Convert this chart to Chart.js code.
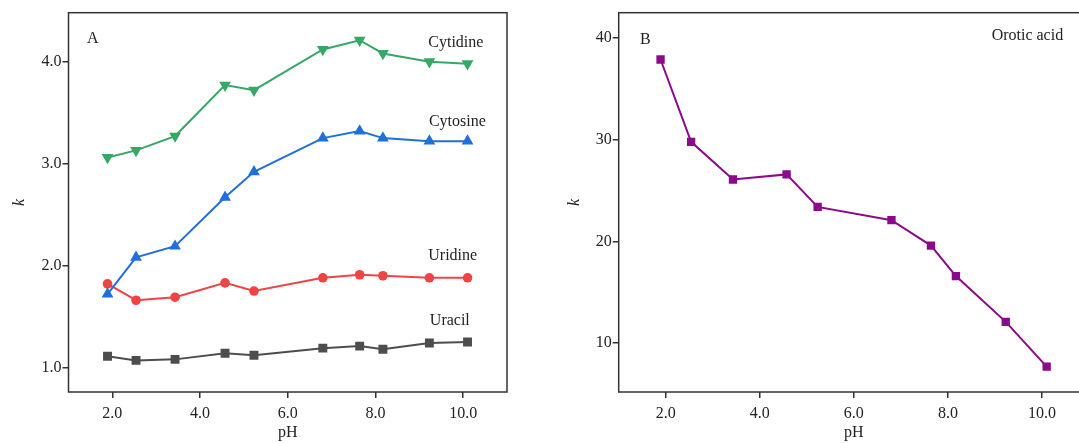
<!DOCTYPE html>
<html>
<head>
<meta charset="utf-8">
<script src="https://cdn.jsdelivr.net/npm/chart.js@4.4.1/dist/chart.umd.min.js"></script>
<style>
    html, body { margin: 0; padding: 0; background: #fff; overflow: hidden; width: 1079px; height: 443px; }
    #left-chart { position: absolute; left: 0; top: 0; }
    #right-chart { position: absolute; left: 560px; top: 0; }
</style>
</head>
<body>
<canvas id="left-chart" width="560" height="443"></canvas>
<canvas id="right-chart" width="540" height="443"></canvas>
<script>
// pH of each measurement (same for both panels)
const PH = [1.89, 2.54, 3.43, 4.57, 5.23, 6.80, 7.64, 8.17, 9.23, 10.10];

// panel A
const CYTIDINE = [3.06, 3.13, 3.27, 3.77, 3.72, 4.12, 4.21, 4.08, 4.00, 3.98];
const CYTOSINE = [1.72, 2.08, 2.19, 2.67, 2.92, 3.25, 3.32, 3.25, 3.22, 3.22];
const URIDINE = [1.82, 1.66, 1.69, 1.83, 1.75, 1.88, 1.91, 1.90, 1.88, 1.88];
const URACIL = [1.11, 1.07, 1.08, 1.14, 1.12, 1.19, 1.21, 1.18, 1.24, 1.25];

// panel B
const OROTIC_ACID = [37.9, 29.8, 26.1, 26.6, 23.4, 22.1, 19.6, 16.6, 12.1, 7.7];

const X_TICKS = [2, 4, 6, 8, 10];
const Y_TICKS_A = [1, 2, 3, 4];
const Y_TICKS_B = [10, 20, 30, 40];

const TEXTCOLOR = "#222";
const AXISCOLOR = "#333";
const FONT = '"Liberation Serif", "DejaVu Serif", serif';

Chart.defaults.font.family = FONT;
Chart.defaults.font.size = 16;
Chart.defaults.color = TEXTCOLOR;

const framePlugin = {
    id: "frame",
    beforeDatasetsDraw(chart) {
        const {ctx, chartArea: a} = chart;
        ctx.save();
        ctx.strokeStyle = AXISCOLOR;
        ctx.lineWidth = 1.5;
        ctx.strokeRect(a.left, a.top, a.right - a.left, a.bottom - a.top);
        ctx.restore();
    }
};

// text written inside the plot, placed in data units
function notesPlugin(notes) {
    return {
        id: "notes",
        afterDraw(chart) {
            const {ctx, scales: {x, y}} = chart;
            ctx.save();
            ctx.font = "16px " + FONT;
            ctx.fillStyle = TEXTCOLOR;
            ctx.textBaseline = "alphabetic";
            notes.forEach(n => ctx.fillText(n.text, x.getPixelForValue(n.x), y.getPixelForValue(n.y)));
            ctx.restore();
        }
    };
}

function series(values, color, style, radius, rotation) {
    return {
        data: PH.map((p, i) => ({x: p, y: values[i]})),
        borderColor: color,
        backgroundColor: color,
        borderWidth: 2,
        pointStyle: style,
        pointRadius: radius,
        pointRotation: rotation || 0,
        pointBorderWidth: 0,
        pointBackgroundColor: color
    };
}

function makeScales(yMin, yMax, yTicks, yFormat, yWidth, yTitlePad) {
    return {
        x: {
            type: "linear",
            min: 1,
            max: 11,
            afterBuildTicks: s => { s.ticks = X_TICKS.map(v => ({value: v})); },
            afterFit: s => { s.height = 51; },
            ticks: {
                callback: v => v.toFixed(1),
                padding: 6,
                color: TEXTCOLOR
            },
            grid: {drawOnChartArea: false, drawTicks: true, tickLength: 6, color: AXISCOLOR, lineWidth: 1.5},
            border: {display: false},
            title: {display: true, text: "pH", color: TEXTCOLOR, padding: {top: 0, bottom: 1}}
        },
        y: {
            type: "linear",
            min: yMin,
            max: yMax,
            afterBuildTicks: s => { s.ticks = yTicks.map(v => ({value: v})); },
            afterFit: s => { s.width = yWidth; },
            ticks: {
                callback: yFormat,
                padding: 1,
                color: TEXTCOLOR
            },
            grid: {drawOnChartArea: false, drawTicks: true, tickLength: 6, color: AXISCOLOR, lineWidth: 1.5},
            border: {display: false},
            title: {
                display: true,
                text: "k",
                color: TEXTCOLOR,
                font: {style: "italic"},
                padding: {top: yTitlePad, bottom: 0}
            }
        }
    };
}

new Chart(document.querySelector("#left-chart"), {
    type: "line",
    data: {
        datasets: [
            series(CYTIDINE, "#35a866", "triangle", 6.8, 180),
            series(CYTOSINE, "#1f6fdc", "triangle", 6.8),
            series(URIDINE, "#f04444", "circle", 4.8),
            series(URACIL, "#4d4d4d", "rect", 6.3)
        ]
    },
    options: {
        responsive: false,
        animation: false,
        layout: {padding: {top: 12.7, right: 53, bottom: 0, left: 0}},
        scales: makeScales(0.76, 4.48, Y_TICKS_A, v => v.toFixed(1), 68.5, 10),
        plugins: {legend: {display: false}, tooltip: {enabled: false}}
    },
    plugins: [framePlugin, notesPlugin([
        {text: "A", x: 1.42, y: 4.185},
        {text: "Cytidine", x: 9.205, y: 4.145},
        {text: "Cytosine", x: 9.22, y: 3.37},
        {text: "Uridine", x: 9.205, y: 2.058},
        {text: "Uracil", x: 9.24, y: 1.42}
    ])]
});

new Chart(document.querySelector("#right-chart"), {
    type: "line",
    data: {
        datasets: [
            series(OROTIC_ACID, "#8b0a8b", "rect", 5.9)
        ]
    },
    options: {
        responsive: false,
        animation: false,
        layout: {padding: {top: 12.7, right: 11, bottom: 0, left: 0}},
        scales: makeScales(5.2, 42.5, Y_TICKS_B, v => String(v), 58.7, 5.4),
        plugins: {legend: {display: false}, tooltip: {enabled: false}}
    },
    plugins: [framePlugin, notesPlugin([
        {text: "B", x: 1.454, y: 39.44},
        {text: "Orotic acid", x: 8.93, y: 39.78}
    ])]
});
</script>
</body>
</html>
